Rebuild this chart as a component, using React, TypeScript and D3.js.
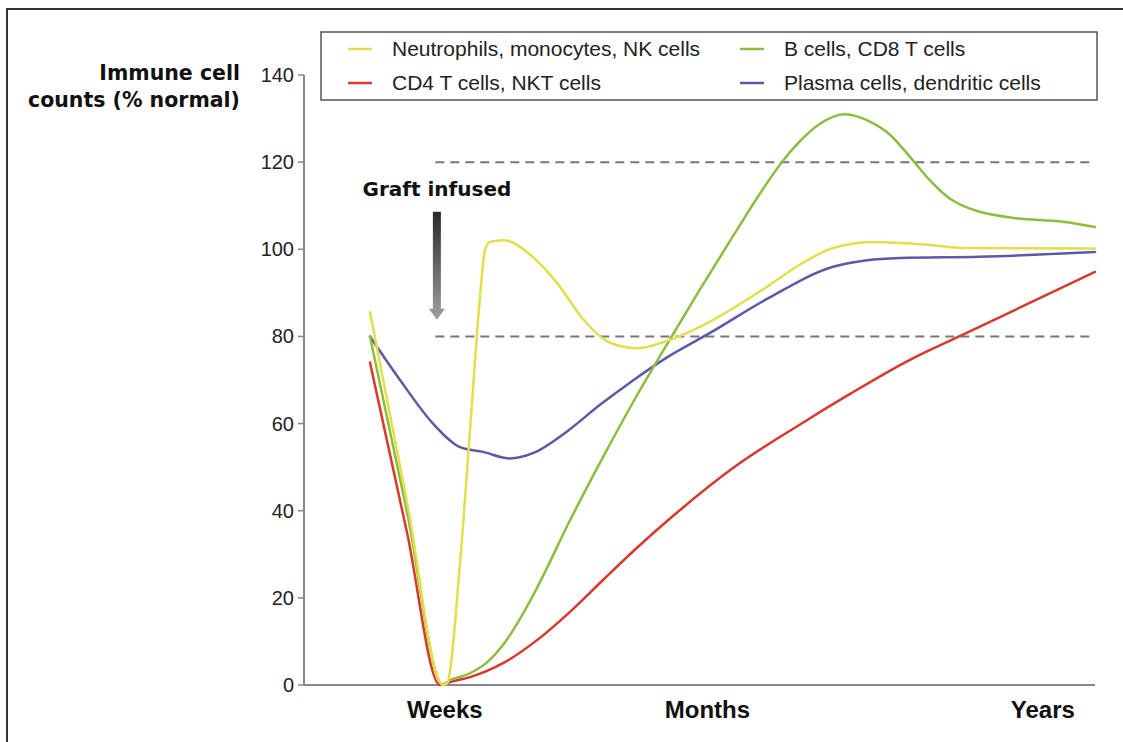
import * as d3 from "d3";

// time axis is a unitless 0..100 scale (weeks -> months -> years)
const neutroT = [8.34, 13.02, 17.57, 18.08, 19.72, 20.99, 22.25, 22.88, 23.51, 25.16, 28.95, 31.98, 35.27, 37.8, 39.95, 42.1, 45.64, 50.06, 58.53, 62.71, 66.88, 71.93, 79.14, 83.31, 100];
const neutroV = [85.6, 42, 0, 0.4, 27.9, 58.5, 89.1, 99.8, 101.7, 102.1, 98.2, 92.3, 84, 79.5, 77.8, 77.3, 78.8, 82.2, 91.4, 96.5, 100.3, 101.7, 101, 100.3, 100.2];

const bCellT = [8.34, 13.02, 17.57, 18.2, 20.99, 23.13, 25.16, 27.31, 29.46, 33.63, 37.8, 42.1, 46.65, 50.06, 54.23, 57.65, 60.56, 62.71, 65.23, 68.39, 71.55, 74.08, 76.61, 79.14, 81.67, 83.57, 85.46, 89.63, 95.95, 100];
const bCellV = [80, 39.7, 0, 0.8, 2.7, 5.2, 9.2, 15.2, 22.3, 37.8, 52.3, 66.5, 80.5, 90.8, 103, 112.8, 120.3, 124.8, 128.8, 131, 129.3, 126.3, 121.2, 115.8, 111.6, 109.8, 108.6, 107.2, 106.3, 105.1];

const cd4T = [8.34, 13.02, 17.19, 18.46, 20.99, 25.16, 29.46, 33.63, 37.8, 42.1, 46.27, 54.23, 62.71, 69.03, 76.36, 83.31, 100];
const cd4V = [74, 35, 0, 0.7, 1.8, 5, 10.3, 16.8, 24.1, 31.5, 38.2, 49.8, 59.8, 66.8, 74.4, 80.4, 94.8];

const plasmaT = [8.34, 12.14, 16.31, 19.72, 22.63, 26.04, 28.95, 33.25, 37.42, 41.59, 45.89, 51.33, 58.53, 66.88, 71.18, 75.35, 85.46, 100];
const plasmaV = [80, 70, 60, 54.6, 53.5, 52, 53.2, 58.2, 64.3, 69.9, 75.2, 80.8, 88.6, 96, 97.5, 98, 98.3, 99.4];

const seriesNames = ["Neutrophils, monocytes, NK cells", "B cells, CD8  T cells", "CD4  T cells, NKT cells", "Plasma cells, dendritic cells"];
const seriesColors = ["#e2df4c", "#8dbd3c", "#d8392b", "#5c5aa6"];
const seriesT = [neutroT, bCellT, cd4T, plasmaT];
const seriesV = [neutroV, bCellV, cd4V, plasmaV];

const yTicks = [0, 20, 40, 60, 80, 100, 120, 140];
const xLabels = ["Weeks", "Months", "Years"];
const xLabelT = [17.8, 51, 93.4];

const refLevels = [80, 120];
const refStartT = 16.6;
const graftT = 16.8;
const graftTop = 108.6;
const graftTip = 83.8;
const graftLabelV = 112.3;

const W = 1123, H = 742;

export default function App() {
  const x = d3.scaleLinear().domain([0, 100]).range([304, 1095]);
  const y = d3.scaleLinear().domain([0, 140]).range([685, 75]);

  const line = d3
    .line<[number, number]>()
    .x((d) => x(d[0]))
    .y((d) => y(d[1]))
    .curve(d3.curveMonotoneX);

  // draw order: red, purple, green, yellow on top
  const order = [2, 3, 1, 0];

  const ax = x(graftT);
  const headH = 11;

  return (
    <svg width={W} height={H} style={{ position: "absolute", left: 0, top: 0, background: "#fff" }}>
      <defs>
        <linearGradient id="arrowGrad" x1="0" y1="0" x2="0" y2="1">
          <stop offset="0%" stopColor="#2a2a2a" />
          <stop offset="100%" stopColor="#a0a0a0" />
        </linearGradient>
      </defs>

      {/* outer frame */}
      <path d={`M7,${H} L7,9 L${W},9`} fill="none" stroke="#333" strokeWidth={2} />

      {/* y axis title */}
      <g fontFamily="'DejaVu Sans', sans-serif" fontWeight="bold" fontSize={20.5} fill="#111" textAnchor="end">
        <text x={240} y={80}>Immune cell</text>
        <text x={240} y={107}>counts (% normal)</text>
      </g>

      {/* y axis */}
      <line x1={x(0)} x2={x(0)} y1={y(140)} y2={y(0)} stroke="#888" strokeWidth={2} />
      {yTicks.map((t) => (
        <g key={t}>
          <line x1={x(0) - 6} x2={x(0)} y1={y(t)} y2={y(t)} stroke="#888" strokeWidth={1.5} />
          <text
            x={x(0) - 10}
            y={y(t)}
            dy="0.35em"
            textAnchor="end"
            fontFamily="'Liberation Sans', Arial, sans-serif"
            fontSize={20}
            fill="#222"
          >
            {t}
          </text>
        </g>
      ))}

      {/* x axis */}
      <line x1={x(0)} x2={x(100)} y1={y(0)} y2={y(0)} stroke="#888" strokeWidth={2} />
      {xLabels.map((l, i) => (
        <text
          key={l}
          x={x(xLabelT[i])}
          y={y(0) + 33}
          textAnchor="middle"
          fontFamily="'Liberation Sans', Arial, sans-serif"
          fontWeight="bold"
          fontSize={24}
          fill="#111"
        >
          {l}
        </text>
      ))}

      {/* reference band */}
      {refLevels.map((r) => (
        <line
          key={r}
          x1={x(refStartT)}
          x2={x(100)}
          y1={y(r)}
          y2={y(r)}
          stroke="#777"
          strokeWidth={2}
          strokeDasharray="9,6"
        />
      ))}

      {/* graft infused arrow */}
      <text
        x={ax}
        y={y(graftLabelV)}
        textAnchor="middle"
        fontFamily="'DejaVu Sans', sans-serif"
        fontWeight="bold"
        fontSize={20}
        fill="#111"
      >
        Graft infused
      </text>
      <path
        d={`M${ax - 4},${y(graftTop)} L${ax + 4},${y(graftTop)} L${ax + 4},${y(graftTip) - headH} L${ax + 8},${y(graftTip) - headH} L${ax},${y(graftTip)} L${ax - 8},${y(graftTip) - headH} L${ax - 4},${y(graftTip) - headH} Z`}
        fill="url(#arrowGrad)"
      />

      {/* series */}
      {order.map((i) => (
        <path
          key={seriesNames[i]}
          d={line(seriesT[i].map((t, k) => [t, seriesV[i][k]] as [number, number])) || ""}
          fill="none"
          stroke={seriesColors[i]}
          strokeWidth={2.5}
          strokeLinejoin="round"
          strokeLinecap="round"
        />
      ))}

      {/* legend */}
      <g>
        <rect x={321} y={32} width={776} height={68} fill="#fff" stroke="#555" strokeWidth={1.5} />
        {seriesNames.map((name, i) => {
          const col = i % 2;
          const row = Math.floor(i / 2);
          const lx = col === 0 ? 348 : 740;
          const ly = 49 + row * 34;
          return (
            <g key={name}>
              <line x1={lx} x2={lx + 24} y1={ly} y2={ly} stroke={seriesColors[i]} strokeWidth={2.5} />
              <text
                x={lx + 44}
                y={ly}
                dy="0.35em"
                fontFamily="'Liberation Sans', Arial, sans-serif"
                fontSize={21}
                fill="#222"
              >
                {name}
              </text>
            </g>
          );
        })}
      </g>
    </svg>
  );
}
